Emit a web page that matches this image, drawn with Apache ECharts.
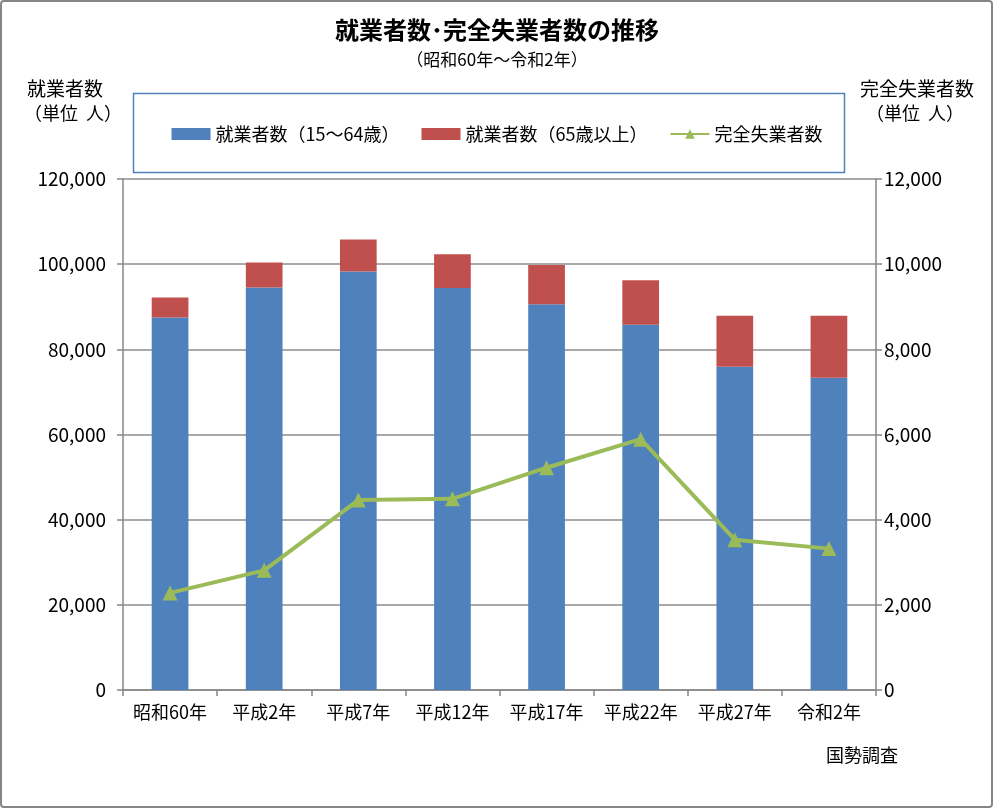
<!DOCTYPE html>
<html><head><meta charset="utf-8">
<script src="https://cdn.jsdelivr.net/npm/echarts@6/dist/echarts.min.js"></script>
<style>html,body{margin:0;padding:0;background:#fff}#c{width:994px;height:809px}</style>
</head><body><div id="c"></div>
<script>
const categories = ['昭和60年','平成2年','平成7年','平成12年','平成17年','平成22年','平成27年','令和2年'];
const workers15to64 = [87500, 94500, 98300, 94400, 90600, 85800, 75900, 73300];
const workers65plus = [4700, 5900, 7500, 7900, 9200, 10400, 12000, 14600];
const unemployed = [2280, 2810, 4460, 4490, 5220, 5890, 3530, 3320];
const leftTicks = [0, 20000, 40000, 60000, 80000, 100000, 120000];
const rightTicks = [0, 2000, 4000, 6000, 8000, 10000, 12000];

const FONT = '"Noto Sans CJK JP", "Noto Sans", sans-serif';
const chart = echarts.init(document.getElementById('c'));
const fmt = v => v.toLocaleString('en-US');
chart.setOption({
  backgroundColor: '#fff',
  textStyle: { fontFamily: FONT, color: '#000' },
  animation: false,
  title: [
    { text: '就業者数･完全失業者数の推移', left: 'center', top: 13,
      textStyle: { fontFamily: FONT, fontSize: 24, fontWeight: 'bold', color: '#000' } },
    { text: '（昭和60年〜令和2年）', left: 'center', top: 46,
      textStyle: { fontFamily: FONT, fontSize: 17, fontWeight: 'normal', color: '#000' } }
  ],
  legend: {
    top: 120, left: 'center',
    itemWidth: 39, itemHeight: 12, itemGap: 22,
    textStyle: { fontFamily: FONT, fontSize: 18, color: '#000' },
    data: [
      { name: '就業者数（15〜64歳）', icon: 'rect' },
      { name: '就業者数（65歳以上）', icon: 'rect' },
      { name: '完全失業者数' }
    ]
  },
  grid: { left: 123, right: 118, top: 179, bottom: 119 },
  xAxis: {
    type: 'category', data: categories,
    axisLine: { lineStyle: { color: '#868686', width: 1.5 } },
    axisTick: { show: true, length: 6, interval: 0, lineStyle: { color: '#868686', width: 1.5 } },
    axisLabel: { fontSize: 18, color: '#000', margin: 13, interval: 0, hideOverlap: false, fontFamily: FONT }
  },
  yAxis: [
    { type: 'value', min: 0, max: 120000, interval: 20000,
      axisLine: { show: true, lineStyle: { color: '#868686', width: 1.5 } },
      axisTick: { show: true, length: 6, lineStyle: { color: '#868686', width: 1.5 } },
      splitLine: { lineStyle: { color: '#8c8c8c', width: 1.5 } },
      axisLabel: { fontSize: 19, color: '#000', margin: 17, fontFamily: FONT, formatter: v => leftTicks.includes(v) ? fmt(v) : '' } },
    { type: 'value', min: 0, max: 12000, interval: 2000, position: 'right',
      axisLine: { show: true, lineStyle: { color: '#868686', width: 1.5 } },
      axisTick: { show: true, length: 6, lineStyle: { color: '#868686', width: 1.5 } },
      splitLine: { show: false },
      axisLabel: { fontSize: 19, color: '#000', margin: 8, fontFamily: FONT, formatter: v => rightTicks.includes(v) ? fmt(v) : '' } }
  ],
  series: [
    { name: '就業者数（15〜64歳）', type: 'bar', stack: 'w', data: workers15to64,
      barWidth: '39%', itemStyle: { color: '#4F81BD' } },
    { name: '就業者数（65歳以上）', type: 'bar', stack: 'w', data: workers65plus,
      barWidth: '39%', itemStyle: { color: '#C0504D' } },
    { name: '完全失業者数', type: 'line', yAxisIndex: 1, data: unemployed,
      symbol: 'triangle', symbolSize: 15,
      lineStyle: { color: '#9BBB59', width: 4 }, itemStyle: { color: '#9BBB59' } }
  ],
  graphic: [
    { type: 'rect', shape: { x: 1, y: 1, width: 991, height: 806, r: 3 },
      style: { fill: 'none', stroke: '#868686', lineWidth: 2 }, silent: true },
    { type: 'rect', shape: { x: 133.5, y: 93.5, width: 711, height: 79 },
      style: { fill: 'none', stroke: '#4F81BD', lineWidth: 1.5 }, silent: true },
    { type: 'text', left: 27, top: 79, style: { text: '就業者数', font: '19px ' + FONT, fill: '#000' } },
    { type: 'text', left: 24, top: 104, style: { text: '（単位  人）', font: '18px ' + FONT, fill: '#000' } },
    { type: 'text', left: 860, top: 79, style: { text: '完全失業者数', font: '19px ' + FONT, fill: '#000' } },
    { type: 'text', left: 866, top: 104, style: { text: '（単位  人）', font: '18px ' + FONT, fill: '#000' } },
    { type: 'text', left: 826, top: 746, style: { text: '国勢調査', font: '18px ' + FONT, fill: '#000' } }
  ]
});
</script></body></html>
